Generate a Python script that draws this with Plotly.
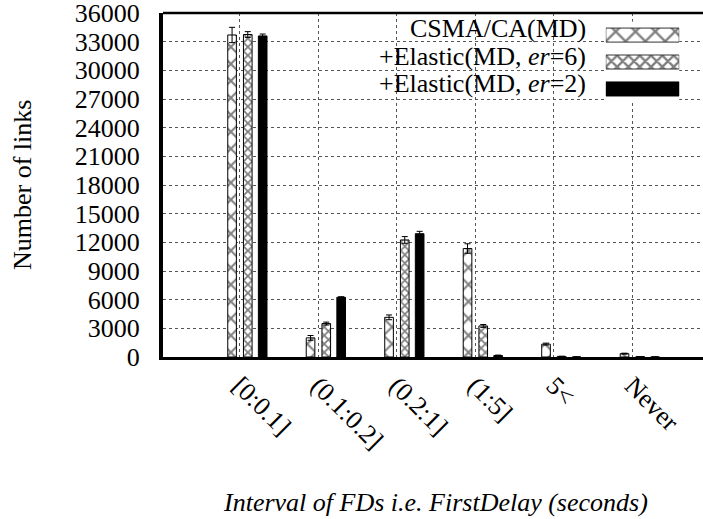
import plotly.graph_objects as go

# --- data ---
categories = ["[0:0.1]", "(0.1:0.2]", "(0.2:1]", "(1:5]", "5<", "Never"]
series_names = ["CSMA/CA(MD)", "+Elastic(MD, <i>er</i>=6)", "+Elastic(MD, <i>er</i>=2)"]

csma = [33700, 2000, 4150, 11350, 1350, 350]
csma_err = [800, 250, 250, 500, 100, 50]
er6 = [33750, 3500, 12250, 3250, 60, 40]
er6_err = [300, 150, 350, 150, 20, 10]
er2 = [33600, 6250, 12900, 150, 0, 0]
er2_err = [200, 60, 250, 50, 0, 0]

y_ticks = list(range(0, 36001, 3000))
y_ticktext = [str(v) for v in y_ticks]

FONT = "Liberation Serif, Times New Roman, serif"
FS = 26

# one style per series
styles = [
    dict(shape="x", size=12, solidity=0.3, color="white"),
    dict(shape="x", size=6, solidity=0.5, color="white"),
    dict(shape="", size=8, solidity=0.3, color="black"),
]
values = [csma, er6, er2]
errors = [csma_err, er6_err, er2_err]

BAR_W = 0.11
offsets = [-0.155, 0.045, 0.235]  # left edge of each bar relative to tick

idx = list(range(len(categories)))

fig = go.Figure()

for k in range(3):
    st = styles[k]
    fig.add_trace(go.Bar(
        x=idx, y=values[k], width=BAR_W, offset=offsets[k],
        marker=dict(
            color=st["color"],
            line=dict(color="black", width=1),
            pattern=dict(shape=st["shape"], size=st["size"], solidity=st["solidity"],
                         fgcolor="black", bgcolor=st["color"]),
        ),
        error_y=dict(type="data", array=errors[k], color="black", thickness=1, width=3),
        showlegend=False,
    ))

# legend swatches on a small hidden pair of axes (key on the right like gnuplot)
for k in range(3):
    st = styles[k]
    fig.add_trace(go.Bar(
        x=[1], y=[series_names[k]], orientation="h", width=0.52,
        xaxis="x2", yaxis="y2",
        marker=dict(
            color=st["color"],
            line=dict(color="#333" if k < 2 else "black", width=1),
            pattern=dict(shape=st["shape"], size=st["size"] + 2, solidity=st["solidity"],
                         fgcolor="black", bgcolor=st["color"]),
        ),
        showlegend=False,
    ))

fig.update_layout(
    width=703, height=519,
    margin=dict(l=163, r=0, t=13, b=162),
    plot_bgcolor="white", paper_bgcolor="white",
    barmode="overlay",
    font=dict(family=FONT, size=FS, color="black"),
    xaxis=dict(
        range=[-0.98, 5.9],
        tickvals=idx, ticktext=categories, tickangle=45,
        showgrid=True, gridcolor="#555", griddash="dot", gridwidth=1,
        showline=True, linecolor="black", linewidth=3,
        ticks="", zeroline=False,
        tickfont=dict(family=FONT, size=FS),
    ),
    yaxis=dict(
        range=[0, 36000], tickvals=y_ticks, ticktext=y_ticktext,
        showgrid=True, gridcolor="#555", griddash="dot", gridwidth=1,
        showline=True, linecolor="black", linewidth=4,
        ticks="", zeroline=False, ticklabelstandoff=14,
        ticklabeloverflow="allow",
        tickfont=dict(family=FONT, size=FS),
    ),
    xaxis2=dict(domain=[0.82, 0.956], anchor="y2", range=[0, 1], visible=False),
    yaxis2=dict(domain=[0.74, 0.975], anchor="x2", type="category",
                categoryorder="array", categoryarray=series_names[::-1], visible=False),
    shapes=[
        # white key background hiding the grid
        dict(type="rect", xref="paper", yref="paper", x0=0.254, x1=0.981, y0=0.747, y1=0.977,
             fillcolor="white", line=dict(width=0), layer="between"),
        # top border
        dict(type="line", xref="paper", yref="paper", x0=0, x1=1, y0=1, y1=1,
             line=dict(color="black", width=2.5)),
    ],
)

# key labels, right aligned
for k, yy in enumerate([0.9535, 0.875, 0.7965]):
    fig.add_annotation(xref="paper", yref="paper", x=0.787, y=yy, xanchor="right", yanchor="middle",
                       text=series_names[k], showarrow=False, font=dict(family=FONT, size=FS))

fig.add_annotation(xref="paper", yref="paper", x=-0.261, y=0.5, textangle=-90,
                   text="Number of links", showarrow=False,
                   xanchor="center", yanchor="middle", font=dict(family=FONT, size=FS))
fig.add_annotation(xref="paper", yref="paper", x=0.505, y=-0.424,
                   text="<i>Interval of FDs i.e. FirstDelay (seconds)</i>", showarrow=False,
                   xanchor="center", yanchor="middle", font=dict(family=FONT, size=FS))

fig.write_html("out.html", config={"displayModeBar": False},
               post_script="document.body.style.margin='0';")
